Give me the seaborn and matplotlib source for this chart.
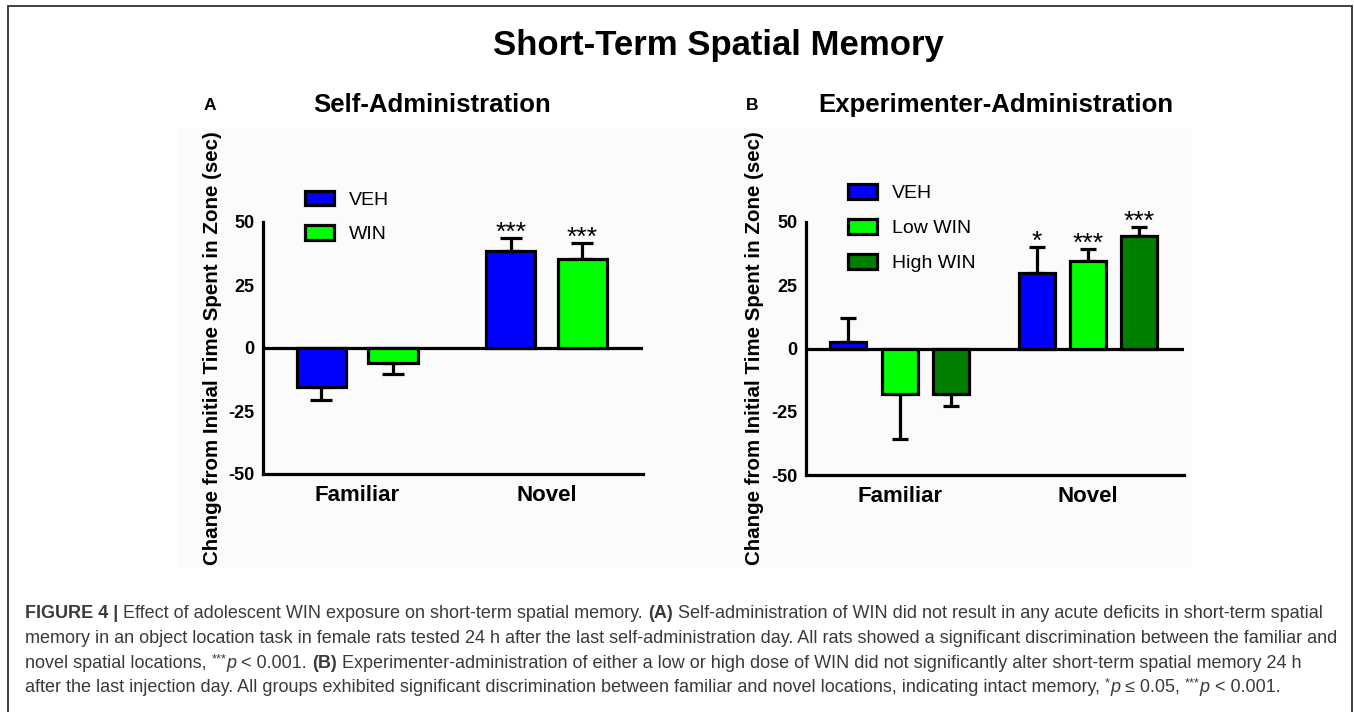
import numpy as np
import pandas as pd
import seaborn as sns
import matplotlib.pyplot as plt
from matplotlib.patches import Patch, Rectangle
from matplotlib.lines import Line2D

# ---- data ----
zones = ['Familiar', 'Novel']

self_groups = ['VEH', 'WIN']
self_veh = [-15.5, 38.5]
self_win = [-6.0, 35.3]
self_veh_err = [5.1, 5.2]
self_win_err = [4.3, 6.4]
self_veh_sig = ['', '***']
self_win_sig = ['', '***']

exp_groups = ['VEH', 'Low WIN', 'High WIN']
exp_veh = [2.4, 30.0]
exp_low = [-17.8, 34.4]
exp_high = [-17.8, 44.3]
exp_veh_err = [9.5, 10.3]
exp_low_err = [18.0, 5.1]
exp_high_err = [5.1, 3.9]
exp_veh_sig = ['', '*']
exp_low_sig = ['', '***']
exp_high_sig = ['', '***']

yticks = [-50, -25, 0, 25, 50]

colors = {'VEH': '#0000ff', 'WIN': '#00ff00', 'Low WIN': '#00ff00', 'High WIN': '#007f00'}

W, H = 1354, 712
LW = 2.3
BODY = 'Liberation Sans'

sns.set_style('white')
plt.rcParams['font.family'] = [BODY, 'DejaVu Sans']
plt.rcParams['text.color'] = 'black'
plt.rcParams['xtick.color'] = 'black'
plt.rcParams['ytick.color'] = 'black'
plt.rcParams['axes.labelcolor'] = 'black'

fig = plt.figure(figsize=(W / 100, H / 100), dpi=100)


def px(x, y):
    return x / W, 1 - y / H


def draw_panel(rect, groups, means, errs, sigs, width, gap, capsize, leg_anchor, leg_spacing):
    ax = fig.add_axes(rect)
    ax.set_facecolor('none')
    df = pd.DataFrame({
        'zone': np.repeat([zones], len(groups), axis=0).ravel(),
        'group': np.repeat(groups, len(zones)),
        'value': np.concatenate(means),
    })
    sns.barplot(data=df, x='zone', y='value', hue='group', order=zones, hue_order=groups,
                palette=colors, errorbar=None, width=width, gap=gap,
                edgecolor='black', linewidth=LW, saturation=1, legend=False, ax=ax, zorder=3)
    ax.axhline(0, color='black', lw=LW, zorder=2)
    for cont, err, sig in zip(ax.containers, errs, sigs):
        for bar, e, s in zip(cont, err, sig):
            xc = bar.get_x() + bar.get_width() / 2
            val = bar.get_y() + bar.get_height()
            lo, hi = (e, 0) if val < 0 else (0, e)
            ax.errorbar([xc], [val], yerr=[[lo], [hi]], fmt='none', ecolor='black',
                        elinewidth=LW, capsize=capsize, capthick=LW, zorder=2)
            if s:
                ax.text(xc, val + e - 0.8, s, ha='center', va='baseline',
                        fontsize=19, family=BODY, zorder=4)
    ax.set_ylim(-50, 50)
    ax.set_xlim(-0.497, 1.51)
    ax.set_yticks(yticks)
    ax.set_yticklabels([str(t) for t in yticks], fontweight='bold', fontsize=13)
    ax.set_xticks([0, 1])
    ax.set_xticklabels(zones, fontweight='bold', fontsize=16)
    ax.tick_params(axis='both', direction='out', length=4, width=LW, color='black', pad=2)
    ax.tick_params(axis='x', length=5, pad=3)
    for sp in ['top', 'right']:
        ax.spines[sp].set_visible(False)
    for sp in ['left', 'bottom']:
        ax.spines[sp].set_linewidth(LW)
        ax.spines[sp].set_color('black')
    ax.set_xlabel('')
    ax.set_ylabel('Change from Initial Time Spent in Zone (sec)', fontweight='bold',
                  fontsize=14.8, va='center')
    handles = [Patch(facecolor=colors[g], edgecolor='black', linewidth=LW) for g in groups]
    ax.legend(handles, groups, loc='upper left', bbox_to_anchor=leg_anchor, frameon=False,
              fontsize=14, handlelength=1.5, handleheight=0.8, handletextpad=0.75,
              labelspacing=leg_spacing, borderpad=0, borderaxespad=0)
    return ax


# faint backdrop of the pasted graph
fig.patches.append(Rectangle(px(178, 567), 1014 / W, 439 / H, transform=fig.transFigure,
                             facecolor='#fbfbfb', edgecolor='none', zorder=-5))

axA = draw_panel([263 / W, 1 - 474 / H, 380 / W, 252 / H], self_groups,
                 [self_veh, self_win], [self_veh_err, self_win_err], [self_veh_sig, self_win_sig],
                 width=0.756, gap=0.31, capsize=8, leg_anchor=(0.11, 1.125), leg_spacing=0.83)
axA.yaxis.set_label_coords((212 - 263) / 380, 0.5)

axB = draw_panel([806 / W, 1 - 475 / H, 378 / W, 253 / H], exp_groups,
                 [exp_veh, exp_low, exp_high], [exp_veh_err, exp_low_err, exp_high_err],
                 [exp_veh_sig, exp_low_sig, exp_high_sig],
                 width=0.817, gap=0.30, capsize=6, leg_anchor=(0.111, 1.15), leg_spacing=0.86)
axB.yaxis.set_label_coords((754 - 806) / 378, 0.5)

# headings
fig.text(*px(718, 46), 'Short-Term Spatial Memory', ha='center', va='center',
         fontsize=25, fontweight='bold')
fig.text(*px(432, 105), 'Self-Administration', ha='center', va='center',
         fontsize=18.5, fontweight='bold')
fig.text(*px(996, 105), 'Experimenter-Administration', ha='center', va='center',
         fontsize=18.5, fontweight='bold')
fig.text(*px(210, 105), 'A', ha='center', va='center', fontsize=12.5, fontweight='bold')
fig.text(*px(752, 105), 'B', ha='center', va='center', fontsize=12.5, fontweight='bold')

# frame around the figure
for xs, ys in [([8, 8], [712, 6]), ([8, 1352], [6, 6]), ([1352, 1352], [6, 712])]:
    fig.lines.append(Line2D([x / W for x in xs], [1 - y / H for y in ys],
                            transform=fig.transFigure, color='#333333', lw=1.3))

# caption with mixed styles
CAP = ['Liberation Sans Narrow', 'Liberation Sans', 'DejaVu Sans']
CAP_SIZE = 13.0
cap_color = '#3a3a3a'
caption = [
    [('FIGURE 4 | ', 'bold', 'normal', 1.0, 0),
     ('Effect of adolescent WIN exposure on short-term spatial memory. ', 'normal', 'normal', 1.0, 0),
     ('(A)', 'bold', 'normal', 1.0, 0),
     (' Self-administration of WIN did not result in any acute deficits in short-term spatial',
      'normal', 'normal', 1.0, 0)],
    [('memory in an object location task in female rats tested 24 h after the last '
      'self-administration day. All rats showed a significant discrimination between the familiar and',
      'normal', 'normal', 1.0, 0)],
    [('novel spatial locations, ', 'normal', 'normal', 1.0, 0),
     ('***', 'normal', 'normal', 0.7, 4),
     ('p', 'normal', 'italic', 1.0, 0),
     (' < 0.001. ', 'normal', 'normal', 1.0, 0),
     ('(B)', 'bold', 'normal', 1.0, 0),
     (' Experimenter-administration of either a low or high dose of WIN did not significantly '
      'alter short-term spatial memory 24 h', 'normal', 'normal', 1.0, 0)],
    [('after the last injection day. All groups exhibited significant discrimination between '
      'familiar and novel locations, indicating intact memory, ', 'normal', 'normal', 1.0, 0),
     ('*', 'normal', 'normal', 0.7, 4),
     ('p', 'normal', 'italic', 1.0, 0),
     (' \u2264 0.05, ', 'normal', 'normal', 1.0, 0),
     ('***', 'normal', 'normal', 0.7, 4),
     ('p', 'normal', 'italic', 1.0, 0),
     (' < 0.001.', 'normal', 'normal', 1.0, 0)],
]

renderer = fig.canvas.get_renderer()


def width_px(s, **kw):
    t = fig.text(0, 0, s, **kw)
    w = t.get_window_extent(renderer).width
    t.remove()
    return w


line_y = [614, 638.5, 663, 687.5]
for segs, y in zip(caption, line_y):
    x = 25
    for text, weight, style, scale, dy in segs:
        kw = dict(fontsize=CAP_SIZE * scale, fontweight=weight, fontstyle=style, family=CAP)
        # measure with guard chars so leading/trailing spaces are counted
        w = width_px('|' + text + '|', **kw) - width_px('||', **kw)
        fig.text(x / W, 1 - (y - dy) / H, text, ha='left', va='center', color=cap_color, **kw)
        x += w

fig.savefig('out.png', dpi=100)
